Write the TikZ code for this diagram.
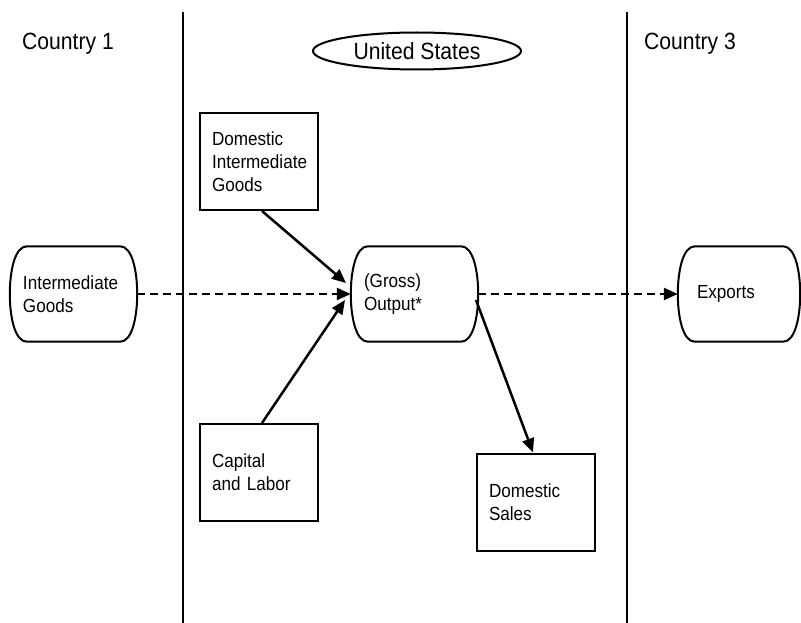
\documentclass[tikz,border=0pt]{standalone}
\usepackage{fontspec}
\setmainfont{Liberation Sans}[FakeStretch=0.9]
\usetikzlibrary{arrows.meta,shapes.geometric}

\tikzset{
  lbl/.style={font=\fontsize{19}{23}\selectfont},
  heading/.style={font=\fontsize{23.5}{26}\selectfont},
  divider/.style={line width=1.5pt},
  box/.style={lbl, draw, line width=2pt, text width=94pt, inner xsep=12pt,
    minimum height=97pt, align=left},
  barrel/.style={lbl, text width=101pt, inner xsep=13pt, inner ysep=0pt,
    minimum height=95pt, align=left},
  outline/.style={line width=2pt, line join=round},
  flow/.style={line width=2.5pt, -{Triangle[length=14pt,width=12pt]}},
  dashflow/.style={flow, dash pattern=on 8pt off 5pt},
}

% outline with flat top and bottom and bulging sides, around a node
\newcommand\barrelline[1]{%
  \draw[outline] ([xshift=17pt]#1.north west) -- ([xshift=-17pt]#1.north east)
    .. controls ([xshift=-5pt]#1.north east) and ([yshift=-25pt]#1.north east) .. (#1.east)
    .. controls ([yshift=25pt]#1.south east) and ([xshift=-5pt]#1.south east) .. ([xshift=-17pt]#1.south east)
    -- ([xshift=17pt]#1.south west)
    .. controls ([xshift=5pt]#1.south west) and ([yshift=25pt]#1.south west) .. (#1.west)
    .. controls ([yshift=-25pt]#1.north west) and ([xshift=5pt]#1.north west) .. ([xshift=17pt]#1.north west)
    -- cycle;}

\begin{document}
\begin{tikzpicture}[x=1pt,y=-1pt]
\useasboundingbox (0,0) rectangle (801,623);

% country dividers
\coordinate (d1top) at (183,12);
\coordinate (d1bot) at (183,623);
\coordinate (d2top) at (627,12);
\coordinate (d2bot) at (627,623);
\draw[divider] (d1top) -- (d1bot);
\draw[divider] (d2top) -- (d2bot);

% headings
\node[heading, anchor=west, inner sep=0pt] (c1) at (22,44) {Country 1};
\node[heading, anchor=west, inner sep=0pt] (c3) at (644,44) {Country 3};
\node[ellipse, draw, line width=2pt, minimum width=208pt, minimum height=37pt,
  inner sep=0pt, heading] (us) at (417,51) {United States};

% flow nodes
\node[barrel] (ig) at (73.5,294) {Intermediate\\Goods};
\node[barrel] (out) at (414.5,294) {(Gross)\\Output*};
\node[barrel, text width=84pt, inner xsep=19pt] (exp) at (739,294) {Exports};
\barrelline{ig}
\barrelline{out}
\barrelline{exp}

\node[box] (dig) at (259,161.5) {Domestic\\Intermediate\\Goods};
\node[box] (cap) at (259,472.5) {Capital\\and Labor};
\node[box] (ds) at (536,502) {Domestic\\Sales};

% connectors
\draw[dashflow] (ig.east) -- (out.west);
\draw[dashflow] (out.east) -- (exp.west);
\coordinate (digtip) at (346,283);
\coordinate (captip) at (345,300);
\coordinate (dsfrom) at (476,300);
\draw[flow] ([xshift=3pt]dig.south) -- (digtip);
\draw[flow] ([xshift=3pt]cap.north) -- (captip);
\draw[flow] (dsfrom) -- ([xshift=-3pt]ds.north);
\end{tikzpicture}
\end{document}
